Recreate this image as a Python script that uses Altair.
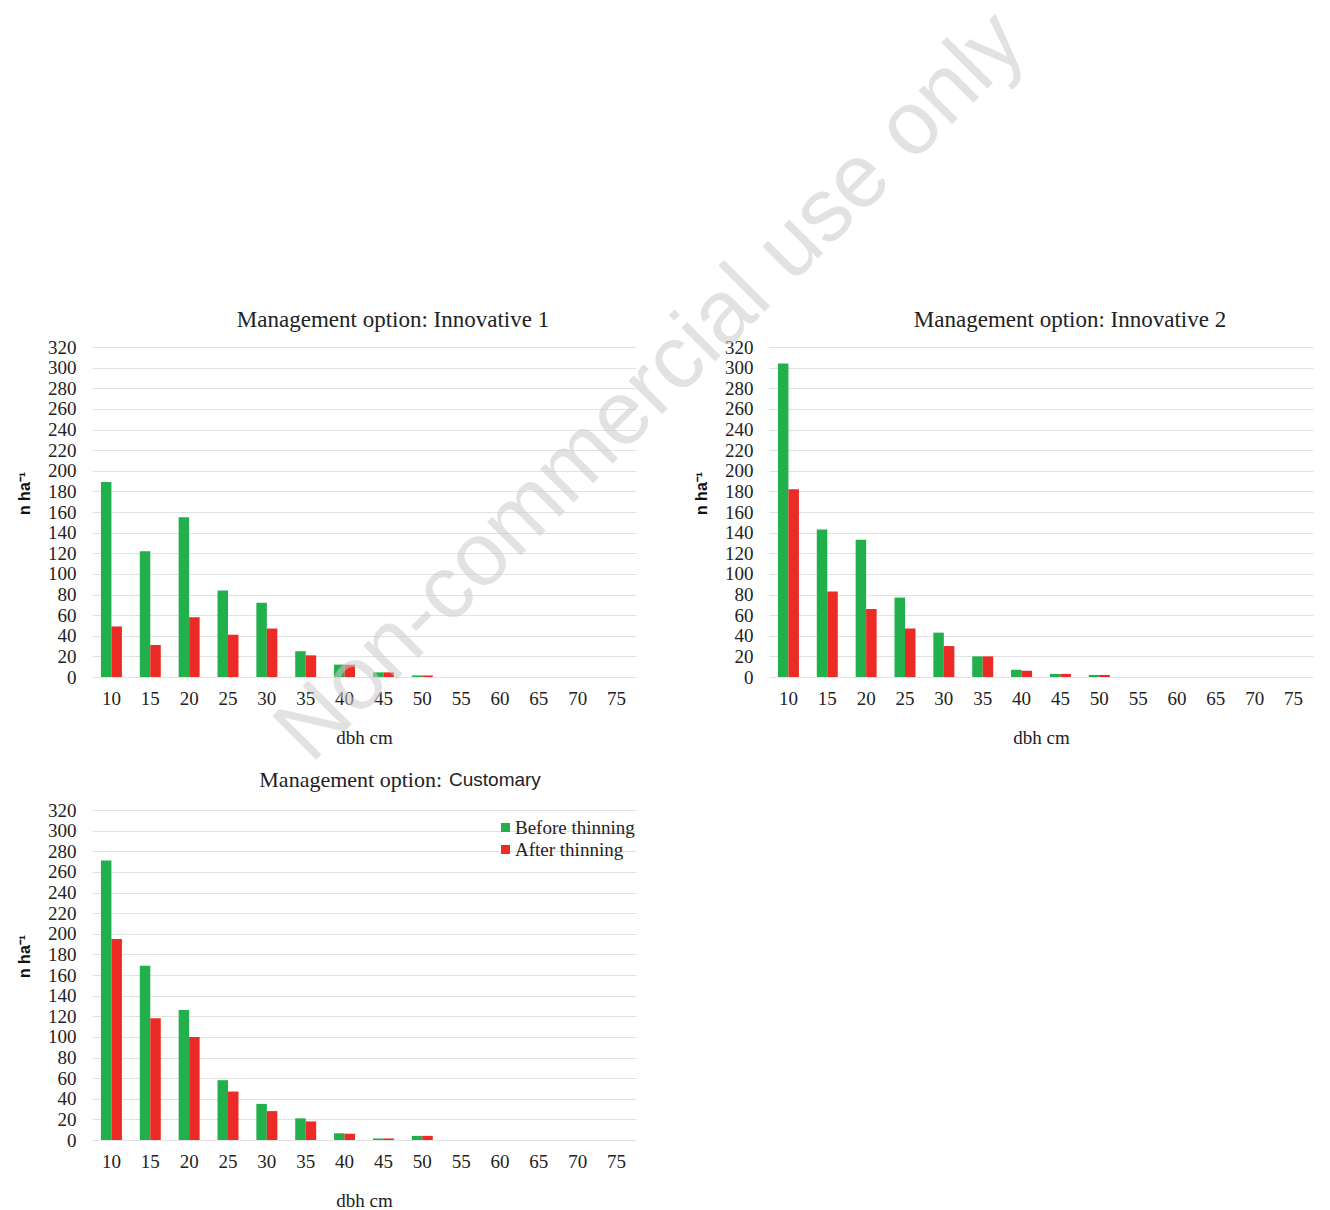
import altair as alt
import pandas as pd

dbh = [10, 15, 20, 25, 30, 35, 40, 45, 50, 55, 60, 65, 70, 75]
series = ["Before thinning", "After thinning"]
colors = ["#21b04b", "#ec2a26"]

inn1_before = [189, 122, 155, 84, 72, 25, 12, 4.5, 1.5, 0, 0, 0, 0, 0]
inn1_after = [49, 31, 58, 41, 47, 21, 12, 4.5, 1.5, 0, 0, 0, 0, 0]
inn2_before = [304, 143, 133, 77, 43, 20, 7, 3, 2, 0, 0, 0, 0, 0]
inn2_after = [182, 83, 66, 47, 30, 20, 6, 3, 2, 0, 0, 0, 0, 0]
cust_before = [271, 169, 126, 58, 35, 21, 6.5, 1.5, 4, 0, 0, 0, 0, 0]
cust_after = [195, 118, 100, 47, 28, 18, 6, 1.5, 4, 0, 0, 0, 0, 0]

y_ticks = list(range(0, 321, 20))

SERIF = "Liberation Serif"
SANS = "Liberation Sans"
W, H = 544, 330


def make_df(before, after):
    rows = []
    for d, b, a in zip(dbh, before, after):
        rows.append({"dbh": d, "series": series[0], "value": b})
        rows.append({"dbh": d, "series": series[1], "value": a})
    return pd.DataFrame(rows)


def bars(before, after, legend):
    df = make_df(before, after)
    leg = None
    if legend:
        leg = alt.Legend(
            title=None, orient="none", legendX=404, legendY=8, symbolType="square",
            symbolSize=81, symbolStrokeWidth=0, labelFont=SERIF, labelFontSize=19,
            labelColor="#222222", rowPadding=2, padding=0, labelOffset=0,
        )
    return alt.Chart(df).mark_bar().encode(
        x=alt.X("dbh:O", title="dbh cm",
                scale=alt.Scale(paddingInner=0.46, paddingOuter=0.23),
                axis=alt.Axis(labelAngle=0, ticks=False, domain=False, labelPadding=12,
                              labelFont=SERIF, labelFontSize=19, labelColor="#222222",
                              titleFont=SERIF, titleFontSize=19, titleFontWeight="normal",
                              titleColor="#222222", titlePadding=20)),
        xOffset=alt.XOffset("series:N", sort=series),
        y=alt.Y("value:Q", title="n ha⁻¹",
                scale=alt.Scale(domain=[0, 320], nice=False),
                axis=alt.Axis(values=y_ticks, ticks=False, domain=False, labelPadding=16,
                              labelFont=SERIF, labelFontSize=19, labelColor="#222222",
                              grid=True, gridColor="#e2e2e2",
                              titleFont=SANS, titleFontSize=16, titleFontWeight="bold",
                              titleColor="#111111", titlePadding=15, titleY=146)),
        color=alt.Color("series:N", sort=series,
                        scale=alt.Scale(domain=series, range=colors), legend=leg),
    )


title_style = dict(font=SERIF, fontSize=23, fontWeight="normal", color="#222222",
                   offset=6, dx=29)

p1 = bars(inn1_before, inn1_after, False).properties(
    width=W, height=H,
    title=alt.TitleParams("Management option: Innovative 1", **title_style))

p2 = bars(inn2_before, inn2_after, False).properties(
    width=W, height=H,
    title=alt.TitleParams("Management option: Innovative 2", **title_style))

t_df = pd.DataFrame({"a": ["Management option:"], "b": ["Customary"],
                     "w": ["Non-commercial use only"]})
t_left = alt.Chart(t_df).mark_text(
    font=SERIF, fontSize=22, color="#222222", align="right", baseline="middle"
).encode(text="a:N", x=alt.value(350), y=alt.value(-30))
t_right = alt.Chart(t_df).mark_text(
    font=SANS, fontSize=19, color="#222222", align="left", baseline="middle"
).encode(text="b:N", x=alt.value(357), y=alt.value(-30))
watermark = alt.Chart(t_df).mark_text(
    angle=315, fontSize=90, font=SANS, color="#cccccc", opacity=0.55,
    align="center", baseline="middle",
).encode(text="w:N", x=alt.value(559), y=alt.value(-423))

p3 = alt.layer(bars(cust_before, cust_after, True), t_left, t_right, watermark).properties(
    width=W, height=H)

chart = alt.concat(
    p1, p2, p3, columns=2, spacing=133, bounds="flush",
).resolve_legend(color="independent").properties(
    padding={"top": -12, "left": 8, "right": 5, "bottom": 5}
).configure_view(stroke=None)

chart.save("out.html", embed_options={"renderer": "svg", "actions": False})
